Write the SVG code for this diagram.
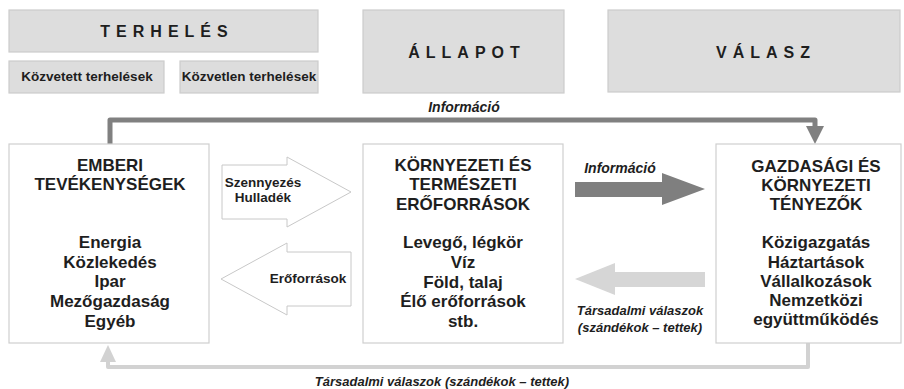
<svg xmlns="http://www.w3.org/2000/svg" width="904" height="389" viewBox="0 0 904 389">
<style>
text{font-family:"Liberation Sans",Arial,sans-serif;fill:#1e1e1e;font-weight:bold;text-anchor:middle}
.hdr{fill:#dddddd;stroke:#cccccc;stroke-width:1.2}
.ttl{font-size:16px;letter-spacing:6px}
.sub{font-size:13.5px}
.box{fill:#ffffff;stroke:#cfcfcf;stroke-width:1.2}
.bt{font-size:17px}
.wa{fill:#ffffff;stroke:#c8c8c8;stroke-width:1}
.al{font-size:13.5px}
.it{font-style:italic}
</style>
<g id="terheles">
<rect class="hdr" x="9" y="10" width="309" height="42"/>
<text class="ttl" x="167" y="37">TERHELÉS</text>
</g>
<g id="kozvetett">
<rect class="hdr" x="9" y="61" width="155" height="32"/>
<text class="sub" x="87" y="81">Közvetett terhelések</text>
</g>
<g id="kozvetlen">
<rect class="hdr" x="180" y="61" width="138" height="32"/>
<text class="sub" x="249" y="81">Közvetlen terhelések</text>
</g>
<g id="allapot">
<rect class="hdr" x="363" y="10" width="201" height="83"/>
<text class="ttl" x="467" y="58">ÁLLAPOT</text>
</g>
<g id="valasz">
<rect class="hdr" x="608" y="10" width="292" height="82"/>
<text class="ttl" x="766" y="58">VÁLASZ</text>
</g>
<g id="connectors">
<path d="M110,144 V120 H815 V127" fill="none" stroke="#808080" stroke-width="5" stroke-linejoin="round"/>
<polygon points="806,126 824,126 815,144" fill="#808080"/>
<path d="M808,343 V367 H108 V360" fill="none" stroke="#d2d2d2" stroke-width="4" stroke-linejoin="round"/>
<polygon points="100,362 116,362 108,345" fill="#d2d2d2"/>
<polygon class="wa" points="222,165 287,165 287,157 351,192 287,227 287,219 222,219"/>
<polygon class="wa" points="221,279 287,243 287,252 351,252 351,306 287,306 287,315"/>
<polygon points="575,182 662,182 662,173 705,189 662,205 662,197 575,197" fill="#7f7f7f"/>
<polygon points="705,272 615,272 615,263 575,279 615,295 615,287 705,287" fill="#d6d6d6"/>
<text class="it" x="464" y="112" font-size="14">Információ</text>
<text class="it" x="620" y="173" font-size="14">Információ</text>
<text class="al" x="263" y="187">Szennyezés</text>
<text class="al" x="263" y="202">Hulladék</text>
<text class="al" x="308" y="283">Erőforrások</text>
<text class="it" x="640" y="315" font-size="13">Társadalmi válaszok</text>
<text class="it" x="640" y="332" font-size="13">(szándékok – tettek)</text>
<text x="442" y="386" font-size="13" font-style="italic" font-weight="normal" fill="#222222">Társadalmi válaszok (szándékok – tettek)</text>
</g>
<g id="emberi">
<rect class="box" x="9" y="144" width="200" height="199"/>
<text class="bt" x="110" y="171">EMBERI</text>
<text class="bt" x="110" y="190">TEVÉKENYSÉGEK</text>
<text class="bt" x="110" y="248">Energia</text>
<text class="bt" x="110" y="268">Közlekedés</text>
<text class="bt" x="110" y="287">Ipar</text>
<text class="bt" x="110" y="307">Mezőgazdaság</text>
<text class="bt" x="110" y="327">Egyéb</text>
</g>
<g id="kornyezeti">
<rect class="box" x="363" y="144" width="200" height="199"/>
<text class="bt" x="463" y="171">KÖRNYEZETI ÉS</text>
<text class="bt" x="463" y="190">TERMÉSZETI</text>
<text class="bt" x="463" y="210">ERŐFORRÁSOK</text>
<text class="bt" x="463" y="248">Levegő, légkör</text>
<text class="bt" x="463" y="268">Víz</text>
<text class="bt" x="463" y="288">Föld, talaj</text>
<text class="bt" x="463" y="307">Élő erőforrások</text>
<text class="bt" x="463" y="327">stb.</text>
</g>
<g id="gazdasagi">
<rect class="box" x="716" y="144" width="185" height="199"/>
<text class="bt" x="816" y="172">GAZDASÁGI ÉS</text>
<text class="bt" x="816" y="191">KÖRNYEZETI</text>
<text class="bt" x="816" y="210">TÉNYEZŐK</text>
<text class="bt" x="816" y="248">Közigazgatás</text>
<text class="bt" x="816" y="268">Háztartások</text>
<text class="bt" x="816" y="287">Vállalkozások</text>
<text class="bt" x="816" y="306">Nemzetközi</text>
<text class="bt" x="816" y="325">együttműködés</text>
</g>
</svg>
